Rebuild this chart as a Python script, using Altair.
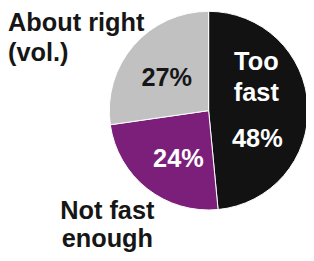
import altair as alt
import pandas as pd

categories = ["Too fast", "Not fast enough", "About right (vol.)"]
values = [48, 24, 27]
labels = ["Too\nfast", "Not fast\nenough", "About right\n(vol.)"]
colors = ["#121212", "#7b1f7b", "#c1c1c1"]

df = pd.DataFrame({
    "category": categories,
    "value": values,
    "label": labels,
    "order": list(range(len(categories))),
})

FONT = "Liberation Sans"
base = alt.Chart(df)

pie = base.mark_arc(radius=102, stroke="white", strokeWidth=1).encode(
    theta=alt.Theta("value:Q", stack=True),
    color=alt.Color("category:N", scale=alt.Scale(domain=categories, range=colors), legend=None),
    order=alt.Order("order:Q"),
    x=alt.value(206),
    y=alt.value(102),
)

def name_text(cat, x, y, align, color, lh):
    return base.transform_filter(alt.datum.category == cat).mark_text(
        font=FONT, fontSize=26, fontWeight="bold", align=align, baseline="alphabetic",
        lineBreak="\n", lineHeight=lh, color=color,
    ).encode(text="label:N", x=alt.value(x), y=alt.value(y))

def pct_text(cat, x, y, color):
    return base.transform_filter(alt.datum.category == cat).transform_calculate(
        pct=alt.expr.toString(alt.datum.value) + "%"
    ).mark_text(
        font=FONT, fontSize=26, fontWeight="bold", align="center", baseline="alphabetic",
        color=color,
    ).encode(text="pct:N", x=alt.value(x), y=alt.value(y))

chart = alt.layer(
    pie,
    name_text("About right (vol.)", 0, 20, "left", "#161616", 31),
    name_text("Not fast enough", 102, 213, "center", "#161616", 29),
    name_text("Too fast", 255, 60, "center", "white", 32),
    pct_text("Too fast", 256, 139, "white"),
    pct_text("About right (vol.)", 163, 77, "#161616"),
    pct_text("Not fast enough", 175, 160, "white"),
).properties(
    width=306, height=253,
    autosize=alt.AutoSizeParams(type="none"),
    padding=0,
).configure_view(stroke=None)

chart.save("out.html", embed_options={"renderer": "svg", "actions": False})
